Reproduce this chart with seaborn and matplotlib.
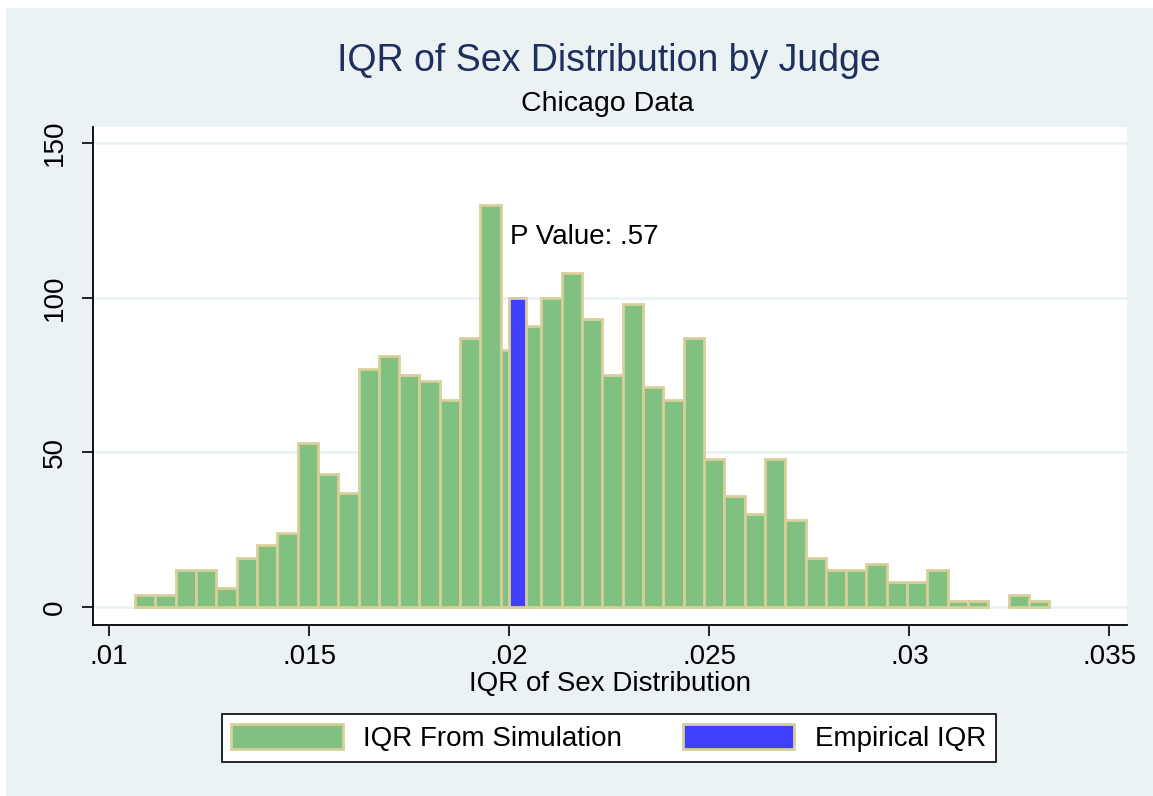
import numpy as np
import pandas as pd
import matplotlib
matplotlib.use("Agg")
import matplotlib.pyplot as plt
import matplotlib.patches as mpatches
import seaborn as sns

# ---------------------------------------------------------------
# Data
# ---------------------------------------------------------------
# frequency of simulated IQRs, 45 equal-width bins
sim_counts = [4, 4, 12, 12, 6, 16, 20, 24, 53, 43,
              37, 77, 81, 75, 73, 67, 87, 130, 83, 91,
              100, 108, 93, 75, 98, 71, 67, 87, 48, 36,
              30, 48, 28, 16, 12, 12, 14, 8, 8, 12,
              2, 2, 0, 4, 2]
sim_lo, sim_hi = 0.01065, 0.0335

# empirical IQR, drawn as a single bar
emp_iqr = 0.0202
emp_height = 100
emp_width = 0.00042

p_value_label = "P Value: .57"

x_ticks = [0.01, 0.015, 0.02, 0.025, 0.03, 0.035]
x_tick_labels = [".01", ".015", ".02", ".025", ".03", ".035"]
y_ticks = [0, 50, 100, 150]

# ---------------------------------------------------------------
# Style
# ---------------------------------------------------------------
sns.set_theme(style="white")
plt.rcParams["font.family"] = ["Liberation Sans", "DejaVu Sans"]
plt.rcParams["text.color"] = "black"
plt.rcParams["axes.labelcolor"] = "black"
plt.rcParams["xtick.color"] = "black"
plt.rcParams["ytick.color"] = "black"

green = "#80C080"
tan = "#D8CF9A"
blue = "#4040FF"
bg = "#EAF2F3"
navy = "#1F2F5E"
edge_w = 2.0

fig = plt.figure(figsize=(11.53, 7.96), dpi=100)
fig.patch.set_facecolor("white")
fig.add_artist(mpatches.Rectangle((6 / 1153, 0), 1, 1 - 8 / 796,
                                  transform=fig.transFigure,
                                  facecolor=bg, edgecolor="none", zorder=0))

ax = fig.add_axes([93 / 1153, 1 - 624.5 / 796, 1034 / 1153, 497.5 / 796])
ax.set_facecolor("white")

# simulated IQR histogram
n_bins = len(sim_counts)
width = (sim_hi - sim_lo) / n_bins
centers = sim_lo + width * (np.arange(n_bins) + 0.5)
hist_df = pd.DataFrame({"iqr": centers, "count": sim_counts})
sns.histplot(data=hist_df, x="iqr", weights="count", bins=n_bins,
             binrange=(sim_lo, sim_hi), ax=ax,
             color=green, edgecolor=tan, linewidth=edge_w, alpha=1)
for p in ax.patches:
    if p.get_height() == 0:
        p.set_visible(False)

# empirical IQR bar
ax.bar(emp_iqr, emp_height, width=emp_width, color=blue,
       edgecolor=tan, linewidth=edge_w, zorder=3)

ax.text(0.02002, 119.5, p_value_label, fontsize=20, ha="left", va="center")

# axes
ax.set_xlim(0.0096, 0.03544)
ax.set_ylim(-5.66, 155.2)
ax.set_xticks(x_ticks)
ax.set_xticklabels(x_tick_labels)
ax.set_yticks(y_ticks)
ax.set_yticklabels([str(v) for v in y_ticks], rotation=90, va="center")
ax.tick_params(axis="both", which="major", labelsize=20, length=8,
               width=1.2, color="black", direction="out",
               bottom=True, left=True)
ax.tick_params(axis="x", pad=6)
ax.tick_params(axis="y", pad=10)

ax.yaxis.grid(True, color=bg, linewidth=2)
ax.xaxis.grid(False)
ax.set_axisbelow(True)

for side in ["top", "right"]:
    ax.spines[side].set_visible(False)
for side in ["left", "bottom"]:
    ax.spines[side].set_color("black")
    ax.spines[side].set_linewidth(1.3)

ax.set_ylabel("")
ax.set_xlabel("IQR of Sex Distribution", fontsize=20, labelpad=1)

# titles
fig.text(609 / 1153, 1 - 61 / 796, "IQR of Sex Distribution by Judge",
         fontsize=27, color=navy, ha="center", va="center")
fig.text(607 / 1153, 1 - 104 / 796, "Chicago Data",
         fontsize=20.5, color="black", ha="center", va="center")

# legend
handles = [mpatches.Patch(facecolor=green, edgecolor=tan, linewidth=edge_w),
           mpatches.Patch(facecolor=blue, edgecolor=tan, linewidth=edge_w)]
leg = fig.legend(handles, ["IQR From Simulation", "Empirical IQR"],
                 loc="center", bbox_to_anchor=(609 / 1153, 1 - 738 / 796),
                 ncol=2, fontsize=20, frameon=True, fancybox=False,
                 framealpha=1, handlelength=4, handleheight=1.0,
                 handletextpad=0.75, columnspacing=2.2, borderpad=0.35)
leg.get_frame().set_edgecolor("black")
leg.get_frame().set_linewidth(1.2)
leg.get_frame().set_facecolor("white")

fig.savefig("out.png", dpi=100)
